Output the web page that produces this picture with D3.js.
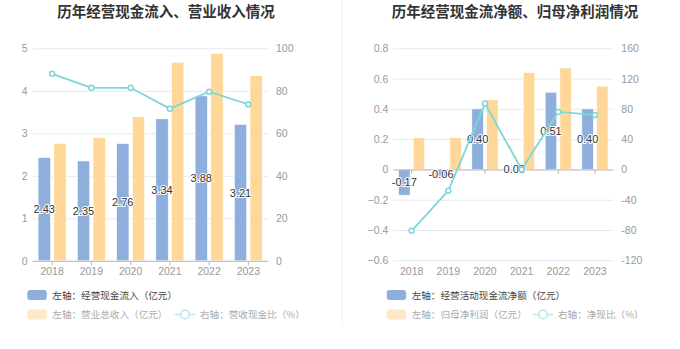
<!DOCTYPE html>
<html><head><meta charset="utf-8">
<script src="https://cdn.jsdelivr.net/npm/d3@7/dist/d3.min.js"></script>
<style>
html,body{margin:0;padding:0;background:#fff;}
svg{display:block;font-family:"Noto Sans CJK SC","Liberation Sans",sans-serif;}
</style></head><body>
<svg id="c" width="680" height="349"></svg>
<script>
const years = ["2018","2019","2020","2021","2022","2023"];
// Left chart
const cashIn = [2.43, 2.35, 2.76, 3.34, 3.88, 3.21];
const revenue = [2.76, 2.90, 3.39, 4.67, 4.88, 4.36];
const cashRatio = [88.0, 81.4, 81.4, 71.6, 79.6, 73.6];
const leftTicksL = [0,1,2,3,4,5];
const leftTicksR = [0,20,40,60,80,100];
// Right chart
const netCash = [-0.17, -0.06, 0.40, 0.00, 0.51, 0.40];
const netProfit = [0.21, 0.21, 0.46, 0.64, 0.67, 0.55];
const netRatio = [-81, -28, 87, 0, 76, 72];
const rightTicksL = [-0.6,-0.4,-0.2,0,0.2,0.4,0.6,0.8];
const rightTicksR = [-120,-80,-40,0,40,80,120,160];

const C_BLUE = "#8eaedc", C_ORANGE = "#ffd899", C_LINE = "#7fd6da";
const svg = d3.select("#c");

// divider
svg.append("line").attr("x1",342).attr("x2",342).attr("y1",0).attr("y2",325)
  .attr("stroke","#f0f0f0").attr("stroke-width",1);

function panel(o){
  const g = svg.append("g");
  const x = d3.scaleBand().domain(years).range([o.x0,o.x1]);
  const yL = d3.scaleLinear().domain(o.domL).range([o.yb,o.yt]);
  const yR = d3.scaleLinear().domain(o.domR).range([o.yb,o.yt]);
  // title
  g.append("text").attr("x",o.tx).attr("y",17).attr("text-anchor","middle")
    .attr("font-size","14.5px").attr("font-weight","bold").attr("fill","#333").text(o.title);
  // grid
  g.selectAll(".gl").data(o.ticksL).join("line")
    .attr("x1",o.x0).attr("x2",o.x1).attr("y1",d=>yL(d)+0.5).attr("y2",d=>yL(d)+0.5)
    .attr("stroke","#e6e9f4").attr("stroke-width",1);
  // left labels
  g.selectAll(".tl").data(o.ticksL).join("text")
    .attr("x",o.x0-5).attr("y",d=>yL(d)+4).attr("text-anchor","end")
    .attr("font-size","10.5px").attr("fill","#999").attr("font-family","Liberation Sans, sans-serif")
    .text(d=>d3.format("")(+d.toFixed(1)));
  g.selectAll(".tr").data(o.ticksR).join("text")
    .attr("x",o.x1+8).attr("y",d=>yR(d)+4).attr("text-anchor","start")
    .attr("font-size","10.5px").attr("fill","#999").attr("font-family","Liberation Sans, sans-serif")
    .text(d=>d);
  const bw = x.bandwidth();
  const barW = bw*0.315, gap = bw*0.085;
  const cx = d=>x(d)+bw/2;
  // bars
  g.selectAll(".b1").data(o.s1).join("rect")
    .attr("x",(d,i)=>cx(years[i])-gap/2-barW)
    .attr("y",d=>Math.min(yL(d),yL(0)))
    .attr("width",barW).attr("height",d=>Math.abs(yL(d)-yL(0)))
    .attr("fill",C_BLUE).attr("stroke","#fff").attr("stroke-width",0.6);
  g.selectAll(".b2").data(o.s2).join("rect")
    .attr("x",(d,i)=>cx(years[i])+gap/2)
    .attr("y",d=>Math.min(yL(d),yL(0)))
    .attr("width",barW).attr("height",d=>Math.abs(yL(d)-yL(0)))
    .attr("fill",C_ORANGE).attr("stroke","#fff").attr("stroke-width",0.6);
  // x axis line
  const ay = yL(0)+0.5;
  g.append("line").attr("x1",o.x0).attr("x2",o.x1).attr("y1",ay).attr("y2",ay)
    .attr("stroke","#b8b8b8").attr("stroke-width",1);
  g.selectAll(".tk").data(years).join("line")
    .attr("x1",d=>cx(d)).attr("x2",d=>cx(d)).attr("y1",ay).attr("y2",ay+4)
    .attr("stroke","#b8b8b8");
  g.selectAll(".xl").data(years).join("text")
    .attr("x",d=>cx(d)).attr("y",o.yb+14.5).attr("text-anchor","middle")
    .attr("font-size","10.5px").attr("fill","#999").attr("font-family","Liberation Sans, sans-serif")
    .text(d=>d);
  // bar labels
  g.selectAll(".bl").data(o.s1).join("text")
    .attr("x",(d,i)=>cx(years[i])-gap/2-barW/2)
    .attr("y",d=>(yL(d)+yL(0))/2+4)
    .attr("text-anchor","middle").attr("font-size","11px").attr("fill","#333")
    .attr("font-family","Liberation Sans, sans-serif")
    .attr("stroke","#fff").attr("stroke-width",2).attr("paint-order","stroke")
    .text(d=>d.toFixed(2));
  // line
  const line = d3.line().x((d,i)=>cx(years[i])).y(d=>yR(d));
  g.append("path").datum(o.s3).attr("d",line).attr("fill","none")
    .attr("stroke",C_LINE).attr("stroke-width",1.8);
  g.selectAll(".pt").data(o.s3).join("circle")
    .attr("cx",(d,i)=>cx(years[i])).attr("cy",d=>yR(d)).attr("r",2.5)
    .attr("fill","#fff").attr("stroke",C_LINE).attr("stroke-width",1.5);
  // legend
  const L = g.append("g");
  const fs = "9.6px";
  L.append("rect").attr("x",o.lx).attr("y",290).attr("width",19.5).attr("height",10).attr("rx",3)
    .attr("fill",C_BLUE);
  L.append("text").attr("x",o.lx+25).attr("y",298.5).attr("font-size",fs).attr("fill","#444").text(o.leg1);
  L.append("rect").attr("x",o.lx).attr("y",309.5).attr("width",19.5).attr("height",10).attr("rx",3)
    .attr("fill","#fde8c8");
  L.append("text").attr("x",o.lx+25).attr("y",318).attr("font-size",fs).attr("fill","#aaa").text(o.leg2);
  L.append("line").attr("x1",o.llx).attr("x2",o.llx+20).attr("y1",314.5).attr("y2",314.5)
    .attr("stroke","#b6e6e9").attr("stroke-width",1.5);
  L.append("circle").attr("cx",o.llx+10).attr("cy",314.5).attr("r",4.2)
    .attr("fill","#fff").attr("stroke","#b6e6e9").attr("stroke-width",1.5);
  L.append("text").attr("x",o.llx+25).attr("y",318).attr("font-size",fs).attr("fill","#aaa").text(o.leg3);
}

panel({x0:32.5,x1:268,yt:48.3,yb:260.8,domL:[0,5],domR:[0,100],
  ticksL:leftTicksL,ticksR:leftTicksR,s1:cashIn,s2:revenue,s3:cashRatio,
  title:"历年经营现金流入、营业收入情况",tx:166,lx:27.3,llx:175,
  leg1:"左轴：经营现金流入（亿元）",leg2:"左轴：营业总收入（亿元）",leg3:"右轴：营收现金比（%）"});
panel({x0:393.3,x1:613.3,yt:48.3,yb:260.3,domL:[-0.6,0.8],domR:[-120,160],
  ticksL:rightTicksL,ticksR:rightTicksR,s1:netCash,s2:netProfit,s3:netRatio,
  title:"历年经营现金流净额、归母净利润情况",tx:515,lx:386.7,llx:533,
  leg1:"左轴：经营活动现金流净额（亿元）",leg2:"左轴：归母净利润（亿元）",leg3:"右轴：净现比（%）"});
</script>
</body></html>
